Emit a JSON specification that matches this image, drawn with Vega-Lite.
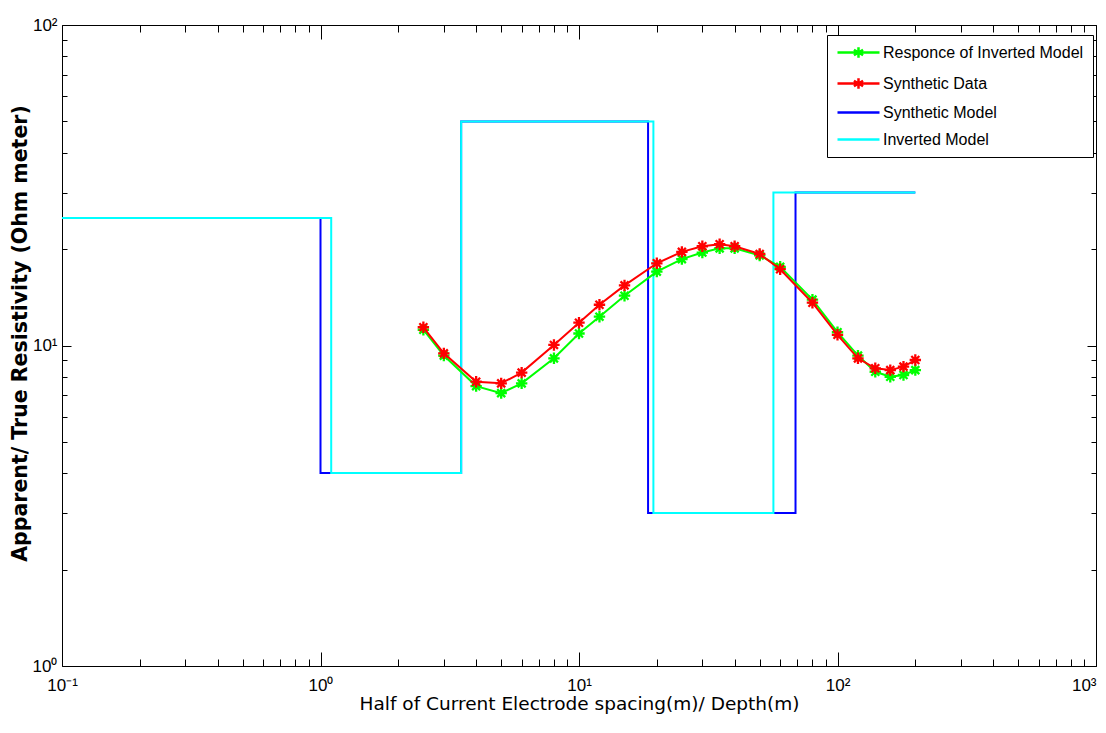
{
  "$schema": "https://vega.github.io/schema/vega-lite/v6.json",
  "width": 1034,
  "height": 641,
  "autosize": {"type": "none"},
  "padding": {"left": 62, "top": 25, "right": 10, "bottom": 67},
  "background": "white",
  "config": {
    "view": {"stroke": "black", "strokeWidth": 1},
    "axis": {"domain": false, "grid": false, "labelFont": "Liberation Sans", "titleFont": "DejaVu Sans", "tickColor": "black", "labelColor": "black", "titleColor": "black", "labelFlush": false, "labelOverlap": false, "tickWidth": 1}
  },
  "data": {"values": [
    {"s": "Synthetic Model", "x": 0.1, "r": 25},
    {"s": "Synthetic Model", "x": 1.0, "r": 4},
    {"s": "Synthetic Model", "x": 3.5, "r": 50},
    {"s": "Synthetic Model", "x": 18.5, "r": 3},
    {"s": "Synthetic Model", "x": 68.8, "r": 30},
    {"s": "Synthetic Model", "x": 200, "r": 30},
    {"s": "Inverted Model", "x": 0.1, "r": 25},
    {"s": "Inverted Model", "x": 1.1, "r": 4},
    {"s": "Inverted Model", "x": 3.5, "r": 50},
    {"s": "Inverted Model", "x": 19.4, "r": 3},
    {"s": "Inverted Model", "x": 56.5, "r": 30},
    {"s": "Inverted Model", "x": 200, "r": 30},
    {"s": "Synthetic Data", "x": 2.5, "r": 11.4},
    {"s": "Synthetic Data", "x": 3, "r": 9.45},
    {"s": "Synthetic Data", "x": 4, "r": 7.71},
    {"s": "Synthetic Data", "x": 5, "r": 7.62},
    {"s": "Synthetic Data", "x": 6, "r": 8.23},
    {"s": "Synthetic Data", "x": 8, "r": 10.04},
    {"s": "Synthetic Data", "x": 10, "r": 11.78},
    {"s": "Synthetic Data", "x": 12, "r": 13.4},
    {"s": "Synthetic Data", "x": 15, "r": 15.4},
    {"s": "Synthetic Data", "x": 20, "r": 18.05},
    {"s": "Synthetic Data", "x": 25, "r": 19.6},
    {"s": "Synthetic Data", "x": 30, "r": 20.4},
    {"s": "Synthetic Data", "x": 35, "r": 20.7},
    {"s": "Synthetic Data", "x": 40, "r": 20.4},
    {"s": "Synthetic Data", "x": 50, "r": 19.3},
    {"s": "Synthetic Data", "x": 60, "r": 17.3},
    {"s": "Synthetic Data", "x": 80, "r": 13.6},
    {"s": "Synthetic Data", "x": 100, "r": 10.8},
    {"s": "Synthetic Data", "x": 120, "r": 9.12},
    {"s": "Synthetic Data", "x": 140, "r": 8.49},
    {"s": "Synthetic Data", "x": 160, "r": 8.38},
    {"s": "Synthetic Data", "x": 180, "r": 8.59},
    {"s": "Synthetic Data", "x": 200, "r": 9.01},
    {"s": "Responce of Inverted Model", "x": 2.5, "r": 11.2},
    {"s": "Responce of Inverted Model", "x": 3, "r": 9.3},
    {"s": "Responce of Inverted Model", "x": 4, "r": 7.47},
    {"s": "Responce of Inverted Model", "x": 5, "r": 7.1},
    {"s": "Responce of Inverted Model", "x": 6, "r": 7.62},
    {"s": "Responce of Inverted Model", "x": 8, "r": 9.12},
    {"s": "Responce of Inverted Model", "x": 10, "r": 10.9},
    {"s": "Responce of Inverted Model", "x": 12, "r": 12.3},
    {"s": "Responce of Inverted Model", "x": 15, "r": 14.3},
    {"s": "Responce of Inverted Model", "x": 20, "r": 17.0},
    {"s": "Responce of Inverted Model", "x": 25, "r": 18.6},
    {"s": "Responce of Inverted Model", "x": 30, "r": 19.5},
    {"s": "Responce of Inverted Model", "x": 35, "r": 20.1},
    {"s": "Responce of Inverted Model", "x": 40, "r": 20.1},
    {"s": "Responce of Inverted Model", "x": 50, "r": 19.1},
    {"s": "Responce of Inverted Model", "x": 60, "r": 17.6},
    {"s": "Responce of Inverted Model", "x": 80, "r": 13.9},
    {"s": "Responce of Inverted Model", "x": 100, "r": 11.0},
    {"s": "Responce of Inverted Model", "x": 120, "r": 9.3},
    {"s": "Responce of Inverted Model", "x": 140, "r": 8.28},
    {"s": "Responce of Inverted Model", "x": 160, "r": 7.99},
    {"s": "Responce of Inverted Model", "x": 180, "r": 8.09},
    {"s": "Responce of Inverted Model", "x": 200, "r": 8.38}
  ]},
  "resolve": {"axis": {"x": "independent", "y": "independent"}},
  "layer": [
    {
      "transform": [{"filter": "datum.s == 'Synthetic Model'"}],
      "mark": {"type": "line", "interpolate": "step-after", "strokeWidth": 2, "clip": true},
      "encoding": {
        "x": {"field": "x", "type": "quantitative",
          "scale": {"type": "log", "domain": [0.1, 1000], "nice": false},
          "axis": {"orient": "bottom", "ticks": false, "values": [0.1, 1, 10, 100, 1000],
            "labelExpr": "datum.value < 0.5 ? '10⁻¹' : datum.value < 5 ? '10⁰' : datum.value < 50 ? '10¹' : datum.value < 500 ? '10²' : '10³'",
            "labelFontSize": 17, "labelPadding": 11,
            "labelAlign": {"condition": {"test": "datum.value > 500", "value": "right"}, "value": "center"},
            "title": "Half of Current Electrode spacing(m)/ Depth(m)", "titleFontSize": 18.5, "titleFontWeight": "normal", "titlePadding": 1}},
        "y": {"field": "r", "type": "quantitative",
          "scale": {"type": "log", "domain": [1, 100], "nice": false},
          "axis": {"orient": "left", "ticks": false, "values": [1, 10, 100],
            "labelExpr": "datum.value < 5 ? '10⁰' : datum.value < 50 ? '10¹' : '10²'",
            "labelFontSize": 17, "labelPadding": 5,
            "title": "Apparent/ True Resistivity (Ohm meter)", "titleFontSize": 20.5, "titleFontWeight": "bold", "titlePadding": 2, "titleY": 308}},
        "color": {"field": "s", "type": "nominal",
          "scale": {"domain": ["Responce of Inverted Model", "Synthetic Data", "Synthetic Model", "Inverted Model"], "range": ["#00FF00", "#FF0000", "#0000FF", "#00FFFF"]},
          "legend": {"title": null, "orient": "none", "legendX": 765, "legendY": 10,
            "labelFont": "Liberation Sans", "labelFontSize": 16, "labelColor": "black", "labelLimit": 400,
            "strokeColor": "black", "fillColor": "white", "padding": 9,
            "symbolSize": 196, "symbolStrokeWidth": 2.5, "labelOffset": 30, "rowPadding": 10,
            "encode": {"symbols": {"update": {
              "shape": {"signal": "(datum.value == 'Responce of Inverted Model' || datum.value == 'Synthetic Data') ? 'M-1,0H5M2,-0.75V0.75M1.35,-0.4L2.65,0.4M1.35,0.4L2.65,-0.4' : 'M-1,0H5'"},
              "fill": {"value": "transparent"}}}}}}
      }
    },
    {
      "transform": [{"filter": "datum.s == 'Inverted Model'"}],
      "mark": {"type": "line", "interpolate": "step-after", "strokeWidth": 2, "clip": true},
      "encoding": {
        "x": {"field": "x", "type": "quantitative",
          "axis": {"orient": "bottom", "labels": false, "values": [0.1, 1, 10, 100, 1000], "tickSize": -14, "title": null}},
        "y": {"field": "r", "type": "quantitative",
          "axis": {"orient": "left", "labels": false, "values": [1, 10, 100], "tickSize": -9, "title": null}},
        "color": {"field": "s", "type": "nominal"}
      }
    },
    {
      "transform": [{"filter": "datum.s == 'Responce of Inverted Model'"}],
      "mark": {"type": "line", "strokeWidth": 2},
      "encoding": {
        "x": {"field": "x", "type": "quantitative",
          "axis": {"orient": "top", "labels": false, "values": [0.1, 1, 10, 100, 1000], "tickSize": -14, "title": null}},
        "y": {"field": "r", "type": "quantitative",
          "axis": {"orient": "right", "labels": false, "values": [1, 10, 100], "tickSize": -9, "title": null}},
        "color": {"field": "s", "type": "nominal"}
      }
    },
    {
      "transform": [{"filter": "datum.s == 'Responce of Inverted Model'"}],
      "mark": {"type": "point", "filled": false, "strokeWidth": 2.3, "size": 130, "opacity": 1, "shape": "M0,-1V1M-1,0H1M-0.7,-0.7L0.7,0.7M-0.7,0.7L0.7,-0.7"},
      "encoding": {
        "x": {"field": "x", "type": "quantitative",
          "axis": {"orient": "bottom", "labels": false, "values": [0.2,0.3,0.4,0.5,0.6,0.7,0.8,0.9,2,3,4,5,6,7,8,9,20,30,40,50,60,70,80,90,200,300,400,500,600,700,800,900], "tickSize": -7, "title": null}},
        "y": {"field": "r", "type": "quantitative",
          "axis": {"orient": "left", "labels": false, "values": [2,3,4,5,6,7,8,9,20,30,40,50,60,70,80,90], "tickSize": -5, "title": null}},
        "color": {"field": "s", "type": "nominal"}
      }
    },
    {
      "transform": [{"filter": "datum.s == 'Synthetic Data'"}],
      "mark": {"type": "line", "strokeWidth": 2},
      "encoding": {
        "x": {"field": "x", "type": "quantitative",
          "axis": {"orient": "top", "labels": false, "values": [0.2,0.3,0.4,0.5,0.6,0.7,0.8,0.9,2,3,4,5,6,7,8,9,20,30,40,50,60,70,80,90,200,300,400,500,600,700,800,900], "tickSize": -7, "title": null}},
        "y": {"field": "r", "type": "quantitative",
          "axis": {"orient": "right", "labels": false, "values": [2,3,4,5,6,7,8,9,20,30,40,50,60,70,80,90], "tickSize": -5, "title": null}},
        "color": {"field": "s", "type": "nominal"}
      }
    },
    {
      "transform": [{"filter": "datum.s == 'Synthetic Data'"}],
      "mark": {"type": "point", "filled": false, "strokeWidth": 2.3, "size": 130, "opacity": 1, "shape": "M0,-1V1M-1,0H1M-0.7,-0.7L0.7,0.7M-0.7,0.7L0.7,-0.7"},
      "encoding": {
        "x": {"field": "x", "type": "quantitative", "axis": null},
        "y": {"field": "r", "type": "quantitative", "axis": null},
        "color": {"field": "s", "type": "nominal"}
      }
    }
  ]
}
